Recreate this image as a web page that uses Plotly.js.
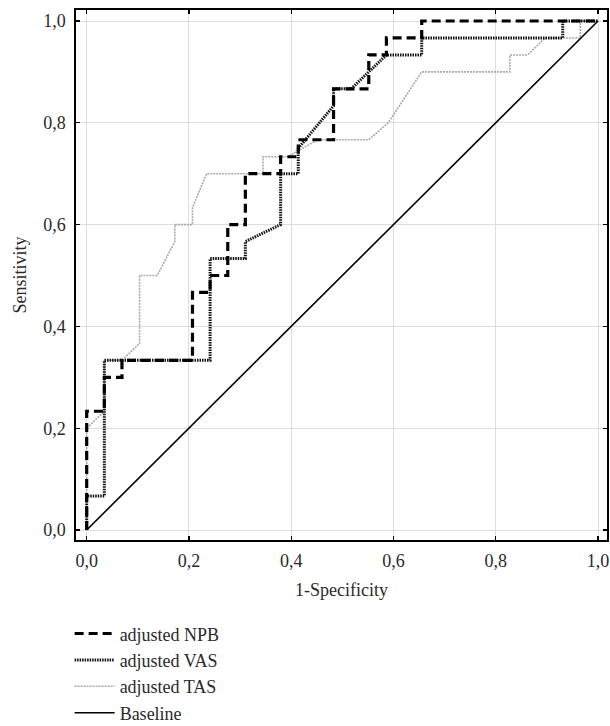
<!DOCTYPE html>
<html>
<head>
<meta charset="utf-8">
<script src="https://cdn.plot.ly/plotly-3.0.1.min.js"></script>
<style>html,body{margin:0;padding:0;background:#fff;}#chart{width:610px;height:726px;}</style>
</head>
<body>
<div id="chart"></div>
<script>
// ROC curve data
const npbX = [0, 0, 0.0345, 0.0345, 0.069, 0.069, 0.2069, 0.2069, 0.2414, 0.2414, 0.2759, 0.2759, 0.3103, 0.3103, 0.3793, 0.3793, 0.4138, 0.4138, 0.4828, 0.4828, 0.5517, 0.5517, 0.5862, 0.5862, 0.6552, 0.6552, 1];
const npbY = [0, 0.2333, 0.2333, 0.3, 0.3, 0.3333, 0.3333, 0.4667, 0.4667, 0.5, 0.5, 0.6, 0.6, 0.7, 0.7, 0.7333, 0.7333, 0.7667, 0.7667, 0.8667, 0.8667, 0.9333, 0.9333, 0.9667, 0.9667, 1, 1];

const vasX = [0, 0, 0.0345, 0.0345, 0.2414, 0.2414, 0.3103, 0.3103, 0.3793, 0.3793, 0.4138, 0.4138, 0.4828, 0.4828, 0.5172, 0.5862, 0.6552, 0.6552, 0.931, 0.931, 1];
const vasY = [0, 0.0667, 0.0667, 0.3333, 0.3333, 0.5333, 0.5333, 0.5667, 0.6, 0.7, 0.7, 0.75, 0.8333, 0.8667, 0.8667, 0.9333, 0.9333, 0.9667, 0.9667, 1, 1];

const tasX = [0, 0, 0.0345, 0.0345, 0.069, 0.1034, 0.1034, 0.1379, 0.1724, 0.1724, 0.2069, 0.2069, 0.2345, 0.3448, 0.3448, 0.3931, 0.4517, 0.5517, 0.5897, 0.6552, 0.8276, 0.8276, 0.8621, 0.8966, 0.9655, 0.9655, 1];
const tasY = [0, 0.2, 0.2333, 0.3333, 0.3333, 0.3667, 0.5, 0.5, 0.5667, 0.6, 0.6, 0.6333, 0.7, 0.7, 0.7333, 0.7333, 0.7667, 0.7667, 0.8, 0.9, 0.9, 0.9333, 0.9333, 0.9667, 0.9667, 1, 1];

const baseX = [0, 1];
const baseY = [0, 1];

const tickVals = [0, 0.2, 0.4, 0.6, 0.8, 1.0];
const tickText = ['0,0', '0,2', '0,4', '0,6', '0,8', '1,0'];

const FONT = 'Liberation Serif, Times New Roman, serif';

const traces = [
  {x: tasX, y: tasY, name: 'adjusted TAS', mode: 'lines', legendrank: 3, legendgroup: 'c',
   line: {color: '#ababab', width: 1.6, dash: '2px,1px'}},
  {x: baseX, y: baseY, name: 'Baseline', mode: 'lines', legendrank: 4, legendgroup: 'd',
   line: {color: '#000', width: 1.6}},
  {x: vasX, y: vasY, name: 'adjusted VAS', mode: 'lines', legendrank: 2, legendgroup: 'b',
   line: {color: '#111', width: 3, dash: '1.5px,1px'}},
  {x: npbX, y: npbY, name: 'adjusted NPB', mode: 'lines', legendrank: 1, legendgroup: 'a',
   line: {color: '#000', width: 3.2, dash: '9px,5px'}}
];

const axisCommon = {
  tickvals: tickVals, ticktext: tickText,
  ticks: 'inside', ticklen: 4, tickwidth: 1.2, tickcolor: '#000',
  showline: true, linecolor: '#000', linewidth: 1.6, mirror: 'ticks',
  showgrid: true, gridcolor: '#dedede', gridwidth: 1,
  zeroline: false, automargin: false,
  tickfont: {family: FONT, size: 18, color: '#2a2a2a'}
};

const layout = {
  width: 610, height: 726,
  margin: {l: 76, r: 3, t: 10, b: 186, autoexpand: false},
  paper_bgcolor: '#fff', plot_bgcolor: '#fff',
  font: {family: FONT, size: 18, color: '#2a2a2a'},
  xaxis: Object.assign({}, axisCommon, {
    range: [-0.0209, 1.0176],
    ticklabelstandoff: 4,
    title: {text: '1-Specificity', font: {family: FONT, size: 18, color: '#2a2a2a'}, standoff: 13}
  }),
  yaxis: Object.assign({}, axisCommon, {
    range: [-0.0196, 1.0216],
    ticklabelstandoff: 5,
    title: {text: 'Sensitivity', font: {family: FONT, size: 18, color: '#2a2a2a'}, standoff: 12}
  }),
  showlegend: true,
  legend: {
    x: -0.012, xanchor: 'left',
    yref: 'container', y: 0.1525, yanchor: 'top',
    orientation: 'v', traceorder: 'grouped', tracegroupgap: 0,
    itemwidth: 40,
    font: {family: FONT, size: 18, color: '#2a2a2a'},
    bgcolor: 'rgba(0,0,0,0)'
  }
};

Plotly.newPlot('chart', traces, layout, {displayModeBar: false, staticPlot: true});
</script>
</body>
</html>
